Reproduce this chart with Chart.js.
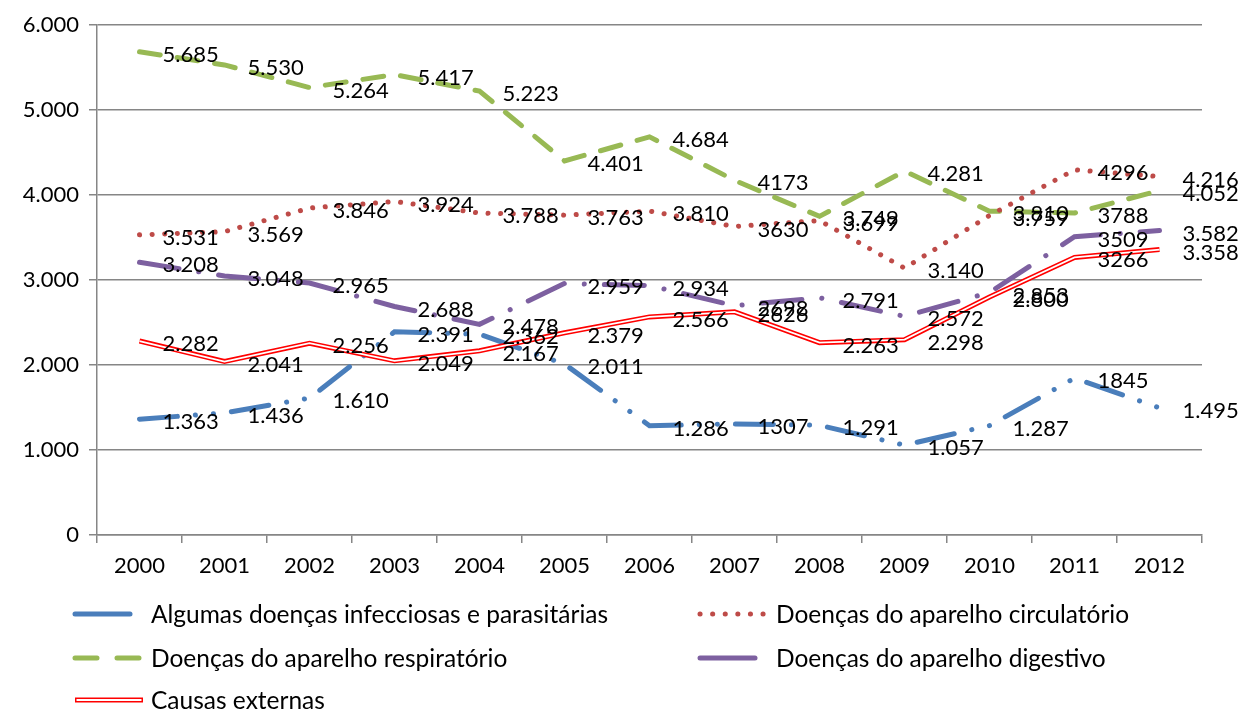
<!DOCTYPE html>
<html>
<head>
<meta charset="utf-8">
<script src="https://cdn.jsdelivr.net/npm/chart.js@4"></script>
<style>
  html, body { margin: 0; padding: 0; background: #fff; }
  #wrap { width: 1241px; height: 711px; }
</style>
</head>
<body>
<div id="wrap"><canvas id="lineChart" width="1241" height="711"></canvas></div>
<script>
// Data
const years = ['2000', '2001', '2002', '2003', '2004', '2005', '2006', '2007', '2008', '2009', '2010', '2011', '2012'];
const infecciosas = [1363, 1436, 1610, 2391, 2362, 2011, 1286, 1307, 1291, 1057, 1287, 1845, 1495];
const circulatorio = [3531, 3569, 3846, 3924, 3788, 3763, 3810, 3630, 3699, 3140, 3759, 4296, 4216];
const respiratorio = [5685, 5530, 5264, 5417, 5223, 4401, 4684, 4173, 3749, 4281, 3810, 3788, 4052];
const digestivo = [3208, 3048, 2965, 2688, 2478, 2959, 2934, 2698, 2791, 2572, 2853, 3509, 3582];
const externas = [2282, 2041, 2256, 2049, 2167, 2379, 2566, 2626, 2263, 2298, 2800, 3266, 3358];
// years whose labels are printed without the thousands dot
const plainYears = ['2007', '2011'];
const yTicks = [0, 1000, 2000, 3000, 4000, 5000, 6000];

const FONT = 'Lato, "Open Sans", sans-serif';
const NUM_SIZE = 22;
const TEXT_SIZE = 24.5;

function fmt(v) {
  return String(v).replace(/\B(?=(\d{3})+(?!\d))/g, '.');
}

// Value labels to the right of each point
const valueLabels = {
  id: 'valueLabels',
  afterDatasetsDraw(chart) {
    const ctx = chart.ctx;
    ctx.save();
    ctx.font = NUM_SIZE + 'px ' + FONT;
    ctx.fillStyle = '#000';
    ctx.textAlign = 'left';
    ctx.textBaseline = 'middle';
    chart.data.datasets.forEach((ds, i) => {
      if (ds.noLabels) return;
      chart.getDatasetMeta(i).data.forEach((pt, j) => {
        const txt = plainYears.includes(years[j]) ? String(ds.data[j]) : fmt(ds.data[j]);
        ctx.fillText(txt, pt.x + 23, pt.y + 3);
      });
    });
    ctx.restore();
  }
};

// Two-column legend under the chart
const gridLegend = {
  id: 'gridLegend',
  afterDraw(chart) {
    const ctx = chart.ctx;
    const slots = [[75, 614], [700, 614], [75, 658], [700, 658], [75, 700]];
    let k = 0;
    chart.data.datasets.forEach(ds => {
      if (ds.noLabels) return;
      const [x, y] = slots[k++];
      ctx.save();
      ctx.lineCap = ds.borderCapStyle || 'butt';
      ctx.strokeStyle = ds.borderColor;
      ctx.lineWidth = ds.borderWidth;
      ctx.setLineDash(ds.legendDash || ds.borderDash || []);
      ctx.beginPath();
      ctx.moveTo(x, y);
      ctx.lineTo(x + 68, y);
      ctx.stroke();
      if (ds.innerColor) {
        ctx.strokeStyle = ds.innerColor;
        ctx.lineWidth = 1.8;
        ctx.beginPath();
        ctx.moveTo(x + 1.5, y);
        ctx.lineTo(x + 66.5, y);
        ctx.stroke();
      }
      ctx.restore();
      ctx.save();
      ctx.font = TEXT_SIZE + 'px ' + FONT;
      ctx.fillStyle = '#000';
      ctx.textBaseline = 'middle';
      ctx.fillText(ds.label, x + 76, y + 1);
      ctx.restore();
    });
  }
};

const ctx = document.getElementById('lineChart').getContext('2d');

new Chart(ctx, {
  type: 'line',
  data: {
    labels: years,
    datasets: [
      {
        label: 'Algumas doenças infecciosas e parasitárias',
        data: infecciosas,
        borderColor: '#4A7EBB',
        borderWidth: 5,
        borderDash: [38, 18, 0.1, 18, 0.1, 18],
        legendDash: [55, 13, 0.1, 40],
        borderCapStyle: 'round',
        order: 0,
      },
      {
        label: 'Doenças do aparelho circulatório',
        data: circulatorio,
        borderColor: '#BE4B48',
        borderWidth: 5,
        borderDash: [0.1, 12.5],
        borderCapStyle: 'round',
        order: 0,
      },
      {
        label: 'Doenças do aparelho respiratório',
        data: respiratorio,
        borderColor: '#98B954',
        borderWidth: 5,
        borderDash: [21, 17],
        legendDash: [22, 20],
        borderCapStyle: 'round',
        order: 0,
      },
      {
        label: 'Doenças do aparelho digestivo',
        data: digestivo,
        borderColor: '#7D60A0',
        borderWidth: 5,
        borderDash: [40, 20, 0.1, 20],
        legendDash: [55, 13, 0.1, 40],
        borderCapStyle: 'round',
        order: 0,
      },
      {
        label: 'Causas externas',
        data: externas,
        borderColor: '#FF0000',
        innerColor: '#FFFFFF',
        borderWidth: 5,
        borderCapStyle: 'butt',
        order: -1,
      },
      {
        // white core of the double line
        label: 'Causas externas (core)',
        data: externas,
        borderColor: '#FFFFFF',
        borderWidth: 1.8,
        noLabels: true,
        order: -2,
      },
    ],
  },
  options: {
    responsive: false,
    animation: false,
    elements: {
      point: { radius: 0, hoverRadius: 0 },
      line: { tension: 0, fill: false },
    },
    layout: { padding: { left: 0, top: 25, right: 39, bottom: 131 } },
    plugins: {
      legend: { display: false },
      tooltip: { enabled: false },
    },
    scales: {
      x: {
        type: 'category',
        offset: true,
        afterFit: scale => { scale.height = 45; },
        grid: {
          offset: true,
          drawOnChartArea: false,
          drawTicks: true,
          tickLength: 8,
          color: '#868686',
          lineWidth: 1.5,
        },
        border: { display: true, color: '#868686', width: 1.5 },
        ticks: {
          color: '#000',
          font: { family: FONT, size: NUM_SIZE },
          padding: 10,
          maxRotation: 0,
        },
      },
      y: {
        min: yTicks[0],
        max: yTicks[yTicks.length - 1],
        afterFit: scale => { scale.width = 97; },
        afterBuildTicks: scale => { scale.ticks = yTicks.map(v => ({ value: v })); },
        grid: {
          color: '#868686',
          lineWidth: 1.5,
          drawTicks: true,
          tickLength: 8,
        },
        border: { display: true, color: '#868686', width: 1.5 },
        ticks: {
          color: '#000',
          font: { family: FONT, size: NUM_SIZE },
          padding: 10,
          callback: v => fmt(v),
        },
      },
    },
  },
  plugins: [valueLabels, gridLegend],
});
</script>
</body>
</html>
